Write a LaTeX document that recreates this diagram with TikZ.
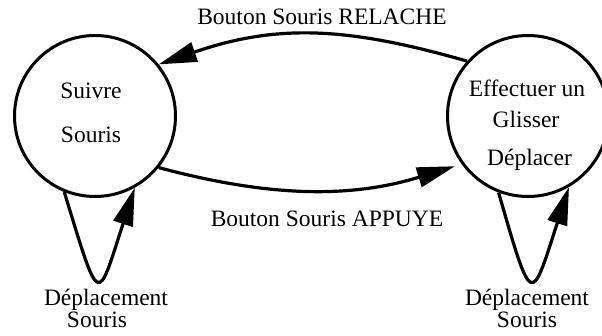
\documentclass[tikz,border=0pt]{standalone}
\usepackage{fontspec}
\setmainfont{Liberation Serif}
\usetikzlibrary{arrows.meta}
\begin{document}
\begin{tikzpicture}[x=1pt,y=1pt,
  state/.style={circle,draw,line width=3pt,minimum size=161pt,inner sep=0pt},
  lbl/.style={anchor=base,inner sep=0pt,font=\fontsize{23.5}{25}\selectfont},
  arr/.style={line width=3.2pt,-{Triangle[length=38pt,width=20pt]}}]
\useasboundingbox (0,0) rectangle (602,336);
\node[state] (L) at (95,220) {};
\node[state] (R) at (528,220) {};
\node[lbl] (l1) at (91,237) {Suivre};
\node[lbl] (l2) at (91,193) {Souris};
\node[lbl] (r1) at (527,239) {Effectuer un};
\node[lbl] (r2) at (526,208) {Glisser};
\node[lbl] (r3) at (529.5,170) {Déplacer};
\node[lbl] (t1) at (322,311) {Bouton Souris RELACHE};
\node[lbl] (t2) at (327,109) {Bouton Souris APPUYE};
\node[lbl] (dl1) at (106,30) {Déplacement};
\node[lbl] (dl2) at (97,8) {Souris};
\node[lbl] (dr1) at (527,30) {Déplacement};
\node[lbl] (dr2) at (527,8) {Souris};
\draw[arr] (R.138) .. controls +(164:125) and +(19:125) .. (L.39);
\draw[arr,shorten >=7pt] (L.-39) .. controls +(-15:116) and +(197:116) .. (R.216);
\draw[arr] (L.248) .. controls +(-73:123) and +(252:123) .. (L.299);
\draw[arr] (R.249) .. controls +(-74:123) and +(252:123) .. (R.300);
\end{tikzpicture}
\end{document}
